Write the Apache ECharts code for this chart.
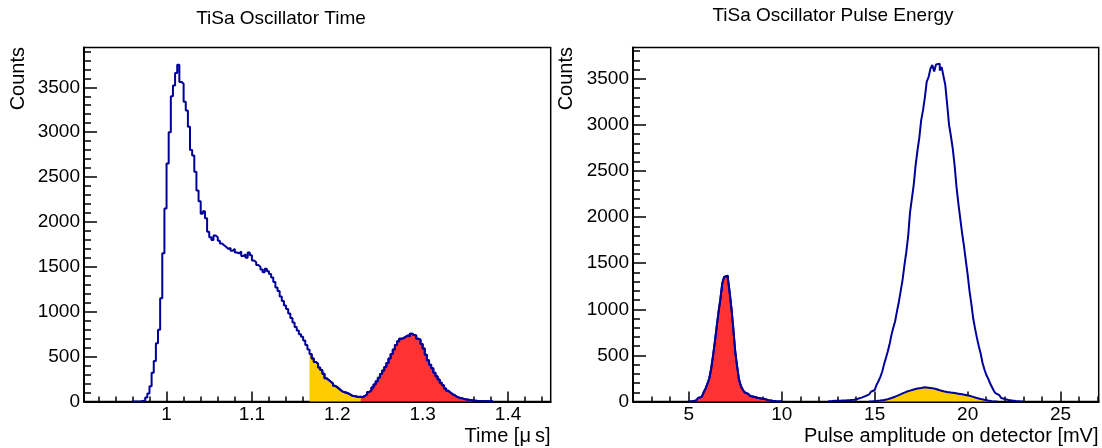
<!DOCTYPE html>
<html><head><meta charset="utf-8">
<script src="https://cdn.jsdelivr.net/npm/echarts@6/dist/echarts.min.js"></script>
<style>html,body{margin:0;padding:0;background:#fff;}#c{width:1102px;height:448px;}</style>
</head><body><div id="c"></div>
<script>
// ---------- data: left panel (time histogram) ----------
const timeBinStart = 0.96;
const timeBinWidth = 0.0025;
const timeCounts = [
  0,0,0,2,5,15,45,90,170,320,
  450,650,800,1150,1650,2150,2650,3000,3400,3520,
  3660,3750,3560,3540,3340,3240,3060,2800,2740,2560,
  2350,2230,2090,2120,2040,1890,1830,1800,1850,1830,
  1790,1760,1740,1720,1700,1710,1680,1700,1660,1650,
  1670,1620,1640,1600,1660,1630,1570,1550,1520,1500,
  1470,1440,1480,1450,1420,1380,1330,1270,1230,1170,
  1120,1070,1030,980,930,880,830,790,750,720,
  680,630,580,530,480,440,420,380,350,310,
  260,240,220,200,175,160,140,120,105,100,
  92,80,65,60,55,50,52,50,62,80,
  105,125,155,190,225,265,305,345,385,430,
  480,530,580,630,670,700,705,720,735,725,
  755,740,735,700,690,640,590,520,460,410,
  370,320,280,245,210,180,145,120,100,82,
  70,55,45,38,32,25,22,18,14,10,
  8,6,5,4,3,2,2,1,0
];
const timeYellowRange = [1.1675, 1.2275];
const timeRedRange = [1.2275, 1.3825];
const timeTicks = [1, 1.1, 1.2, 1.3, 1.4];
const timeAxisRange = [0.9033, 1.45];
const timeCountMax = 3943;

// ---------- data: right panel (pulse energy histogram) ----------
const energyBinWidth = 0.1;
const energyLowStart = 5.0;
const energyLowCounts = [
  0,2,5,12,24,38,50,70,100,140,
  190,250,350,490,640,810,970,1110,1280,1350,
  1365,1340,1180,1000,780,540,380,240,170,130,
  100,82,70,60,52,45,40,36,32,30,
  26,20,15,11,8,5,3,2,1,0
];
const energyHighStart = 12.5;
const energyHighCounts = [
  4,5,6,7,7,
  9,10,11,12,13,14,16,18,20,24,
  30,36,42,50,58,68,78,92,106,125,
  145,180,220,265,320,400,470,540,620,720,
  800,870,980,1080,1200,1320,1480,1620,1790,2050,
  2200,2350,2560,2720,2860,3050,3160,3300,3470,3520,
  3610,3650,3580,3655,3665,3590,3630,3530,3430,3220,
  3000,2880,2740,2560,2330,2150,1990,1830,1690,1530,
  1380,1200,1060,900,790,690,600,520,420,350,
  290,250,200,160,120,90,70,50,38,28,
  22,17,13,10,7,5,3,2,1,0
];
const energyYellowStart = 14.7;
const energyYellowCounts = [
  0,2,3,5,8,10,13,16,20,25,
  32,38,45,52,60,70,80,88,97,105,
  112,118,124,130,135,140,143,146,150,155,
  153,150,152,145,140,135,128,122,118,112,
  108,104,100,97,93,91,88,85,82,78,
  74,70,66,62,56,50,43,38,32,27,
  22,18,14,10,7,4,2,1,0
];
const energyTicks = [5, 10, 15, 20, 25];
const energyAxisRange = [2, 27.05];
const energyCountMax = 3840;
const countTicks = [0, 500, 1000, 1500, 2000, 2500, 3000, 3500];

// ---------- helpers ----------
function histPoints(start, width, counts, lo, hi) {
  const pts = [];
  let last = null;
  counts.forEach((c, i) => {
    const x = +(start + i * width).toFixed(6);
    if (lo !== undefined && (x < lo - 1e-9 || x >= hi - 1e-9)) return;
    pts.push([x, c]);
    last = [+(x + width).toFixed(6), c];
  });
  if (last) pts.push(last);
  return pts;
}
function steps(a, b, d) {
  const out = [];
  const n = Math.round((b - a) / d);
  for (let k = 0; k <= n; k++) out.push(+(a + k * d).toFixed(6));
  return out;
}
const BLUE = '#000099', RED = '#ff3333', YELLOW = '#ffcc00';
const FONT = '"Liberation Sans", Arial, Helvetica, sans-serif';
const lblStyle = {color: '#000', fontSize: 19, fontFamily: FONT};

function xMajor(grid, range, ticks) {
  return {gridIndex: grid, type: 'value', position: 'bottom', min: range[0], max: range[1],
    axisLine: {show: true, onZero: false, lineStyle: {color: '#000', width: 2}},
    axisTick: {show: true, inside: true, length: 10, lineStyle: {color: '#000', width: 1.5}, customValues: ticks},
    axisLabel: Object.assign({show: true, margin: 4, customValues: ticks, formatter: v => String(+(+v).toFixed(3))}, lblStyle),
    splitLine: {show: false}};
}
function xMinor(grid, range, ticks) {
  return {gridIndex: grid, type: 'value', position: 'bottom', min: range[0], max: range[1],
    axisLine: {show: false},
    axisTick: {show: true, inside: true, length: 5, lineStyle: {color: '#000', width: 1.5}, customValues: ticks},
    axisLabel: {show: false}, splitLine: {show: false}};
}
function yMajor(grid, max) {
  return {gridIndex: grid, type: 'value', position: 'left', min: 0, max: max,
    axisLine: {show: true, onZero: false, lineStyle: {color: '#000', width: 2}},
    axisTick: {show: true, inside: true, length: 13, lineStyle: {color: '#000', width: 1.5}, customValues: countTicks},
    axisLabel: Object.assign({show: true, margin: 4, customValues: countTicks, formatter: v => String(Math.round(v))}, lblStyle),
    splitLine: {show: false}};
}
function yMinor(grid, max) {
  return {gridIndex: grid, type: 'value', position: 'left', min: 0, max: max,
    axisLine: {show: false},
    axisTick: {show: true, inside: true, length: 7, lineStyle: {color: '#000', width: 1.5}, customValues: steps(0, Math.floor(max / 100) * 100, 100)},
    axisLabel: {show: false}, splitLine: {show: false}};
}
function hist(xi, yi, data, fill, z) {
  const s = {type: 'line', xAxisIndex: xi, yAxisIndex: yi, data: data, step: 'end', showSymbol: false,
    symbol: 'none', lineStyle: {color: BLUE, width: 2}, itemStyle: {color: BLUE}, z: z, silent: true};
  if (fill) s.areaStyle = {color: fill, opacity: 1};
  return s;
}

const chart = echarts.init(document.getElementById('c'), null, {renderer: 'canvas'});
chart.setOption({
  animation: false,
  backgroundColor: '#fff',
  grid: [
    {left: 84, top: 47.5, width: 466.7, height: 354, show: true, borderColor: '#000', borderWidth: 1.5, backgroundColor: 'transparent', containLabel: false},
    {left: 633, top: 47.5, width: 465.7, height: 354, show: true, borderColor: '#000', borderWidth: 1.5, backgroundColor: 'transparent', containLabel: false}
  ],
  xAxis: [
    xMajor(0, timeAxisRange, timeTicks),
    xMinor(0, timeAxisRange, steps(0.92, 1.44, 0.02)),
    xMajor(1, energyAxisRange, energyTicks),
    xMinor(1, energyAxisRange, steps(3, 27, 1))
  ],
  yAxis: [
    yMajor(0, timeCountMax), yMinor(0, timeCountMax),
    yMajor(1, energyCountMax), yMinor(1, energyCountMax)
  ],
  series: [
    hist(0, 0, histPoints(timeBinStart, timeBinWidth, timeCounts, timeYellowRange[0], timeYellowRange[1]), YELLOW, 2),
    hist(0, 0, histPoints(timeBinStart, timeBinWidth, timeCounts, timeRedRange[0], timeRedRange[1]), RED, 2),
    hist(0, 0, histPoints(timeBinStart, timeBinWidth, timeCounts), null, 3),
    hist(2, 2, histPoints(energyLowStart, energyBinWidth, energyLowCounts), RED, 2),
    hist(2, 2, histPoints(energyYellowStart, energyBinWidth, energyYellowCounts), YELLOW, 2),
    hist(2, 2, histPoints(energyLowStart, energyBinWidth, energyLowCounts), null, 3),
    hist(2, 2, histPoints(energyHighStart, energyBinWidth, energyHighCounts), null, 3)
  ],
  graphic: [
    {type: 'text', x: 281, y: 18.5, style: {text: 'TiSa Oscillator Time', font: '19px ' + FONT, fill: '#000', align: 'center', verticalAlign: 'middle'}},
    {type: 'text', x: 833, y: 16, style: {text: 'TiSa Oscillator Pulse Energy', font: '19px ' + FONT, fill: '#000', align: 'center', verticalAlign: 'middle'}},
    {type: 'text', x: 550.5, y: 436, style: {text: 'Time [\u03bc\u2009s]', font: '20px ' + FONT, fill: '#000', align: 'right', verticalAlign: 'middle'}},
    {type: 'text', x: 1098.5, y: 436, style: {text: 'Pulse amplitude on detector [mV]', font: '20px ' + FONT, fill: '#000', align: 'right', verticalAlign: 'middle'}},
    {type: 'text', x: 18, y: 47, rotation: Math.PI / 2, style: {text: 'Counts', font: '20px ' + FONT, fill: '#000', align: 'right', verticalAlign: 'middle'}},
    {type: 'text', x: 566.7, y: 47, rotation: Math.PI / 2, style: {text: 'Counts', font: '20px ' + FONT, fill: '#000', align: 'right', verticalAlign: 'middle'}}
  ]
});
</script></body></html>
